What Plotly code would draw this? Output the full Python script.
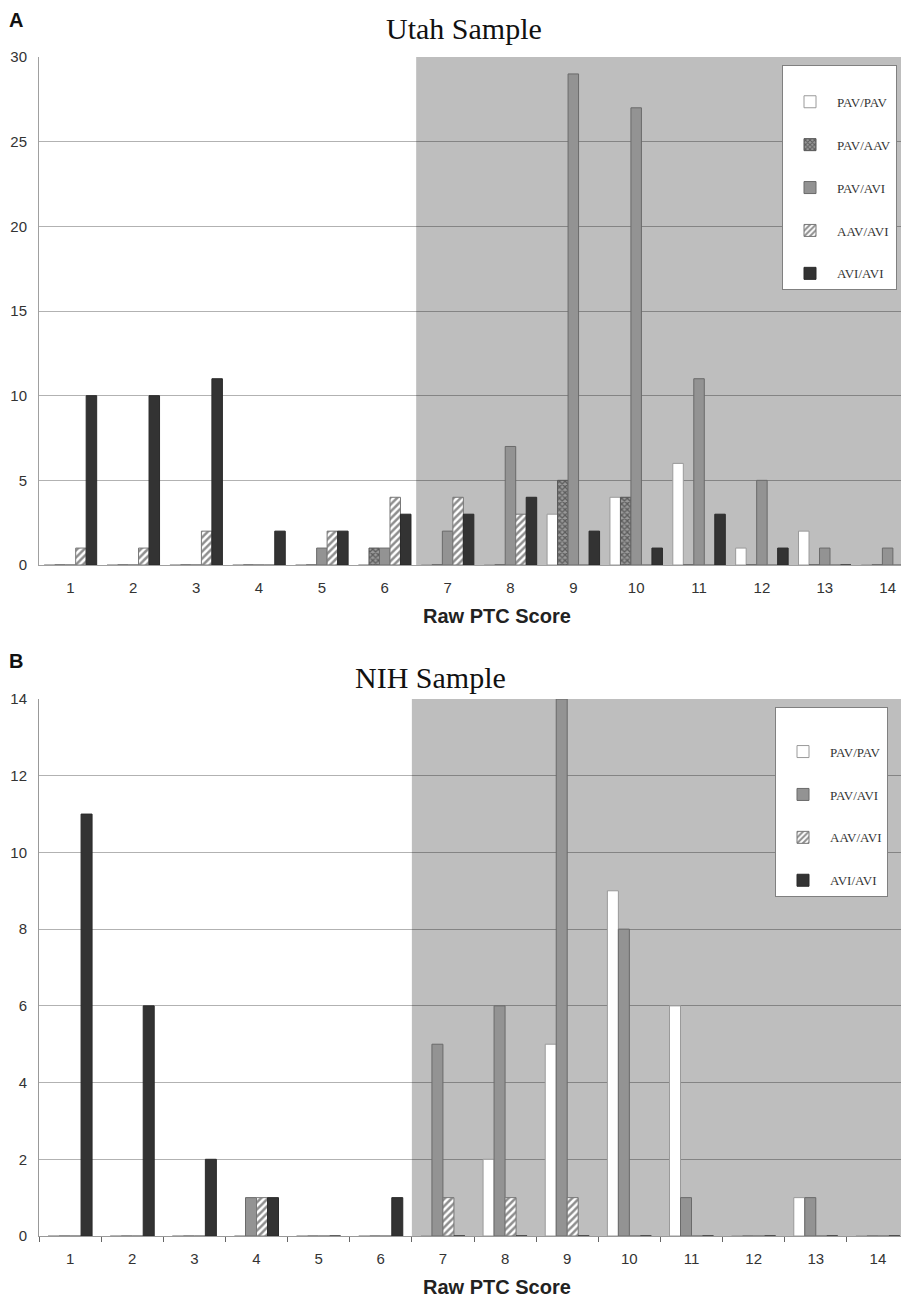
import plotly.graph_objects as go

# page has an 8px body margin; figure sized so its right/bottom meet the window edge
OFF = 8
W, H = 909 - OFF, 1297 - OFF


def fx(px):
    return (px - OFF) / W


def fy(py):
    return 1 - (py - OFF) / H


scores = list(range(1, 15))
score_labels = [str(s) for s in scores]

# ---- Panel A: Utah sample ----
utah_pav_pav = [0, 0, 0, 0, 0, 0, 0, 0, 3, 4, 6, 1, 2, 0]
utah_pav_aav = [0, 0, 0, 0, 0, 1, 0, 0, 5, 4, 0, 0, 0, 0]
utah_pav_avi = [0, 0, 0, 0, 1, 1, 2, 7, 29, 27, 11, 5, 1, 1]
utah_aav_avi = [1, 1, 2, 0, 2, 4, 4, 3, 0, 0, 0, 0, 0, 0]
utah_avi_avi = [10, 10, 11, 2, 2, 3, 3, 4, 2, 1, 3, 1, 0, 0]

# ---- Panel B: NIH sample ----
nih_pav_pav = [0, 0, 0, 0, 0, 0, 0, 2, 5, 9, 6, 0, 1, 0]
nih_pav_avi = [0, 0, 0, 1, 0, 0, 5, 6, 14, 8, 1, 0, 1, 0]
nih_aav_avi = [0, 0, 0, 1, 0, 0, 1, 1, 1, 0, 0, 0, 0, 0]
nih_avi_avi = [11, 6, 2, 1, 0, 1, 0, 0, 0, 0, 0, 0, 0, 0]

utah_ticks = [0, 5, 10, 15, 20, 25, 30]
nih_ticks = [0, 2, 4, 6, 8, 10, 12, 14]

styles = {
    "PAV/PAV": dict(color="white", line=dict(color="#9a9a9a", width=1)),
    "PAV/AAV": dict(color="#555", line=dict(color="#555", width=1),
                    pattern=dict(shape="x", fgcolor="#1e1e1e", bgcolor="#9a9a9a", size=4, solidity=0.55)),
    "PAV/AVI": dict(color="#939393", line=dict(color="#6a6a6a", width=1)),
    "AAV/AVI": dict(color="white", line=dict(color="#777", width=1),
                    pattern=dict(shape="/", fgcolor="#1e1e1e", bgcolor="white", size=5, solidity=0.5)),
    "AVI/AVI": dict(color="#333333", line=dict(color="#2a2a2a", width=1)),
}

fig = go.Figure()

utah_series = [("PAV/PAV", utah_pav_pav), ("PAV/AAV", utah_pav_aav), ("PAV/AVI", utah_pav_avi),
               ("AAV/AVI", utah_aav_avi), ("AVI/AVI", utah_avi_avi)]
for name, vals in utah_series:
    fig.add_trace(go.Bar(x=scores, y=vals, name=name, marker=styles[name],
                         xaxis="x", yaxis="y", legend="legend", legendgroup="A" + name))

nih_series = [("PAV/PAV", nih_pav_pav), ("PAV/AVI", nih_pav_avi),
              ("AAV/AVI", nih_aav_avi), ("AVI/AVI", nih_avi_avi)]
slot = 0.177
for i, (name, vals) in enumerate(nih_series):
    fig.add_trace(go.Bar(x=scores, y=vals, name=name, marker=styles[name],
                         width=slot, offset=(i - 2) * slot,
                         xaxis="x2", yaxis="y2", legend="legend2", legendgroup="B" + name))

grid = "rgba(0,0,0,0.3)"
tickfont = dict(family="Liberation Sans, Arial", size=15, color="#333")

xdom = [fx(39), 1.0]
ydomA = [fy(565), fy(57)]
ydomB = [fy(1236), fy(699)]

legend_font = dict(family="Liberation Serif, Times New Roman", size=13, color="#333")

fig.update_layout(
    width=W, height=H, autosize=False,
    margin=dict(l=0, r=0, t=0, b=0, autoexpand=False),
    paper_bgcolor="white", plot_bgcolor="white",
    barmode="group", bargap=0.165, bargroupgap=0.0,
    font=dict(family="Liberation Sans, Arial", color="#333"),
    xaxis=dict(domain=xdom, anchor="y", range=[0.5, 14.34], tickmode="array",
               tickvals=scores, ticktext=score_labels, tickfont=tickfont, automargin=False,
               showgrid=False, zeroline=False, showline=True, linecolor="#a0a0a0",
               linewidth=1, ticks="", ticklabelstandoff=9),
    yaxis=dict(domain=ydomA, anchor="x", range=[0, 30], tickmode="array", automargin=False,
               tickvals=utah_ticks, tickfont=tickfont, showgrid=True, gridcolor=grid,
               zeroline=False, showline=True, linecolor="#a0a0a0", ticks="",
               ticklabelstandoff=8),
    xaxis2=dict(domain=xdom, anchor="y2", range=[0.5, 14.5], tickmode="array",
                tickvals=scores, ticktext=score_labels, tickfont=tickfont, automargin=False,
                showgrid=False, zeroline=False, showline=True, linecolor="#999",
                linewidth=1, ticks="", ticklabelstandoff=9,
                minor=dict(ticks="outside", ticklen=5, tickcolor="#666",
                           tick0=0.5, dtick=1, showgrid=False)),
    yaxis2=dict(domain=ydomB, anchor="x2", range=[0, 14], tickmode="array", automargin=False,
                tickvals=nih_ticks, tickfont=tickfont, showgrid=True, gridcolor=grid,
                zeroline=False, showline=True, linecolor="#999", ticks="",
                ticklabelstandoff=8),
    legend=dict(x=fx(782), y=fy(65), xanchor="left", yanchor="top",
                bgcolor="white", bordercolor="#808080", borderwidth=1,
                font=legend_font, tracegroupgap=23, itemwidth=44, traceorder="grouped",
                entrywidth=110, entrywidthmode="pixels",
                title=dict(text=" ", font=dict(size=16))),
    legend2=dict(x=fx(775), y=fy(707), xanchor="left", yanchor="top",
                 bgcolor="white", bordercolor="#808080", borderwidth=1,
                 font=legend_font, tracegroupgap=23, itemwidth=44, traceorder="grouped",
                 entrywidth=110, entrywidthmode="pixels",
                 title=dict(text=" ", font=dict(size=22))),
    showlegend=True,
)

# shaded region (scores 7 and above)
fig.add_shape(type="rect", xref="x", yref="y domain", x0=6.5, x1=14.5, y0=0, y1=1,
              fillcolor="#bebebe", line=dict(width=0), layer="below")
fig.add_shape(type="rect", xref="x2", yref="y2 domain", x0=6.5, x1=14.5, y0=0, y1=1,
              fillcolor="#bebebe", line=dict(width=0), layer="below")

serif = "Liberation Serif, Times New Roman"
sans = "Liberation Sans, Arial"
ann = [
    dict(text="<b>A</b>", x=16, y=20, size=20, fam=sans, color="#111"),
    dict(text="Utah Sample", x=464, y=29, size=30, fam=serif, color="#111"),
    dict(text="<b>Raw PTC Score</b>", x=497, y=616, size=20, fam=sans, color="#222"),
    dict(text="<b>B</b>", x=16, y=661, size=20, fam=sans, color="#111"),
    dict(text="NIH Sample", x=430, y=677, size=30, fam=serif, color="#111"),
    dict(text="<b>Raw PTC Score</b>", x=497, y=1287, size=20, fam=sans, color="#222"),
]
for a in ann:
    fig.add_annotation(text=a["text"], x=fx(a["x"]), y=fy(a["y"]), xref="paper", yref="paper",
                       xanchor="center", yanchor="middle", showarrow=False,
                       font=dict(family=a["fam"], size=a["size"], color=a["color"]))

fig.write_html("out.html")
